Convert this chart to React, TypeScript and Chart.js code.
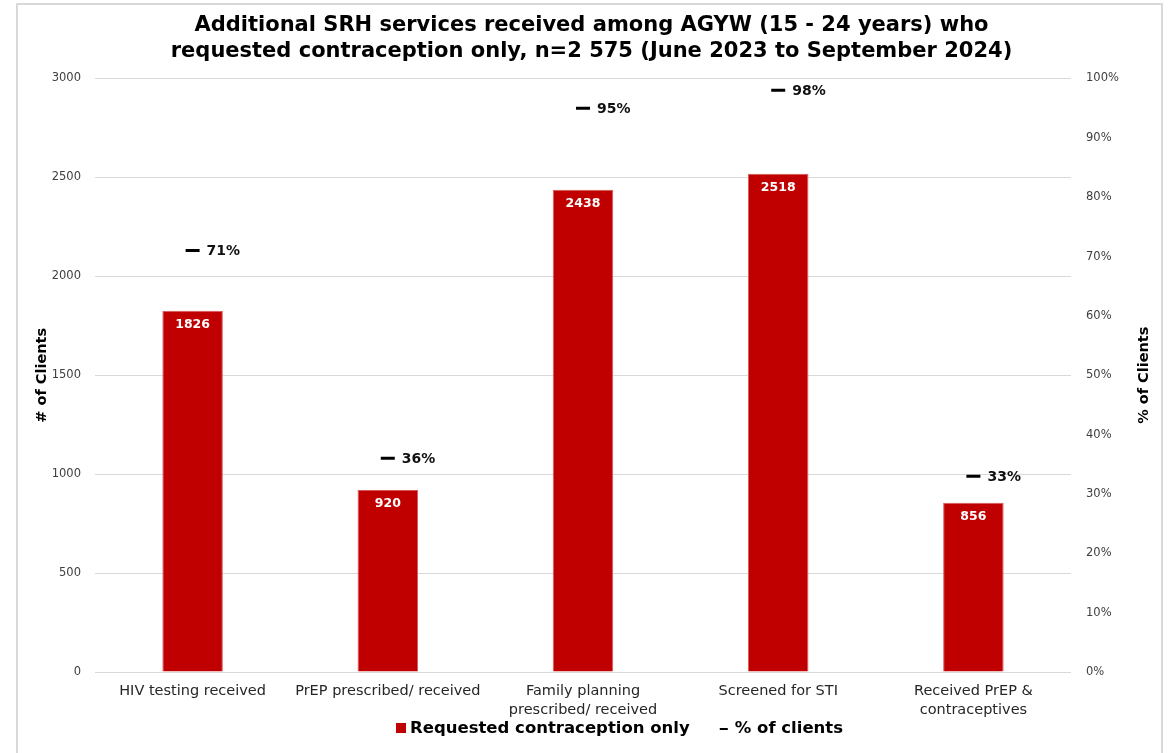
import React, { useEffect, useRef } from "react";
import { Chart, registerables } from "chart.js";

Chart.register(...registerables);

const categories: (string | string[])[] = [
  "HIV testing received",
  "PrEP prescribed/ received",
  ["Family planning", "prescribed/ received"],
  "Screened for STI",
  ["Received PrEP &", "contraceptives"],
];
const clientCounts = [1826, 920, 2438, 2518, 856];
const clientShares = [0.71, 0.36, 0.95, 0.98, 0.33];
const titleLines = [
  "Additional SRH services received among AGYW (15 - 24 years) who",
  "requested contraception only, n=2 575 (June 2023 to September 2024)",
];
const barLabel = "Requested contraception only";
const lineLabel = "% of clients";

const BAR_RED = "#c00000";
const SANS = "'DejaVu Sans', Verdana, sans-serif";

// Value labels on bars and percentage markers, right-hand axis title, legend
const annotations = {
  id: "annotations",
  afterDatasetsDraw(chart: any) {
    const ctx = chart.ctx;
    const barMeta = chart.getDatasetMeta(0);
    const lineMeta = chart.getDatasetMeta(1);
    ctx.save();
    ctx.textBaseline = "middle";

    ctx.font = `bold 12.5px ${SANS}`;
    ctx.fillStyle = "#ffffff";
    ctx.textAlign = "center";
    barMeta.data.forEach((bar: any, i: number) => {
      ctx.fillText(String(clientCounts[i]), bar.x, bar.y + 14);
    });

    ctx.font = `bold 14px ${SANS}`;
    ctx.fillStyle = "#111111";
    ctx.textAlign = "left";
    lineMeta.data.forEach((pt: any, i: number) => {
      ctx.fillText(`${Math.round(clientShares[i] * 100)}%`, pt.x + 14, pt.y + 1);
    });

    // right axis title, reading bottom-to-top
    const area = chart.chartArea;
    ctx.save();
    ctx.translate(1144, (area.top + area.bottom) / 2);
    ctx.rotate(-Math.PI / 2);
    ctx.textAlign = "center";
    ctx.font = `bold 14.5px ${SANS}`;
    ctx.fillStyle = "#000000";
    ctx.fillText("% of Clients", 0, 0);
    ctx.restore();

    // legend
    const ly = 728;
    let x = 396;
    ctx.fillStyle = BAR_RED;
    ctx.fillRect(x, ly - 5, 10, 10);
    x += 14;
    ctx.font = `bold 16.5px ${SANS}`;
    ctx.fillStyle = "#000000";
    ctx.textAlign = "left";
    ctx.fillText(barLabel, x, ly + 1);
    x += ctx.measureText(barLabel).width + 30;
    ctx.fillRect(x, ly, 8, 2);
    x += 15;
    ctx.fillText(lineLabel, x, ly + 1);
    ctx.restore();
  },
};

export default function App() {
  const canvasRef = useRef<HTMLCanvasElement | null>(null);

  useEffect(() => {
    if (!canvasRef.current) return;
    const chart = new Chart(canvasRef.current, {
      type: "bar",
      data: {
        labels: categories,
        datasets: [
          {
            type: "bar",
            label: barLabel,
            data: clientCounts,
            backgroundColor: BAR_RED,
            borderColor: "#d65a5a",
            borderWidth: 1,
            categoryPercentage: 1,
            barPercentage: 0.31,
            yAxisID: "y",
            order: 2,
          },
          {
            type: "line",
            label: lineLabel,
            data: clientShares,
            showLine: false,
            pointStyle: "line",
            pointRadius: 7,
            pointHoverRadius: 7,
            pointBorderWidth: 3,
            pointBorderColor: "#000000",
            borderColor: "#000000",
            yAxisID: "y1",
            order: 1,
          },
        ],
      },
      options: {
        responsive: false,
        animation: false,
        devicePixelRatio: 1,
        layout: { padding: { left: 31, right: 21, top: 0, bottom: 34 } },
        plugins: {
          legend: { display: false },
          tooltip: { enabled: false },
          title: {
            display: true,
            text: titleLines,
            color: "#000000",
            font: { family: SANS, size: 21, weight: "bold", lineHeight: 1.25 },
            padding: { top: 12, bottom: 14 },
          },
        },
        scales: {
          x: {
            grid: { display: false },
            border: { display: false },
            ticks: {
              color: "#262626",
              font: { family: SANS, size: 14.5, lineHeight: 1.3 },
              padding: 2,
              maxRotation: 0,
              autoSkip: false,
            },
            afterFit: (scale: any) => {
              scale.height = 47;
            },
          },
          y: {
            position: "left",
            min: 0,
            max: 3000,
            grid: { color: "#d9d9d9", lineWidth: 1, drawTicks: false },
            border: { display: false },
            ticks: {
              stepSize: 500,
              color: "#404040",
              padding: 14,
              font: { family: SANS, size: 11.5 },
              callback: (v: any) => String(v),
            },
            title: {
              display: true,
              text: "# of Clients",
              color: "#000000",
              font: { family: SANS, size: 14.5, weight: "bold" },
              padding: { top: 3, bottom: 2 },
            },
            afterFit: (scale: any) => {
              scale.width = 64;
            },
          },
          y1: {
            position: "right",
            min: 0,
            max: 1,
            grid: { display: false, drawTicks: false },
            border: { display: false },
            ticks: {
              stepSize: 0.1,
              color: "#404040",
              padding: 15,
              font: { family: SANS, size: 11.5 },
              callback: (v: any) => `${Math.round(Number(v) * 100)}%`,
            },
            afterFit: (scale: any) => {
              scale.width = 81;
            },
          },
        },
      },
      plugins: [annotations],
    });
    return () => chart.destroy();
  }, []);

  return (
    <div style={{ position: "fixed", left: 0, top: 0, width: 1173, height: 753, background: "#ffffff", overflow: "hidden" }}>
      <div
        style={{
          position: "absolute",
          left: 16,
          top: 3,
          width: 1147,
          height: 800,
          border: "2px solid #d9d9d9",
          boxSizing: "border-box",
        }}
      />
      <canvas
        ref={canvasRef}
        width={1173}
        height={753}
        style={{ position: "absolute", left: 0, top: 0, width: 1173, height: 753 }}
      />
    </div>
  );
}
